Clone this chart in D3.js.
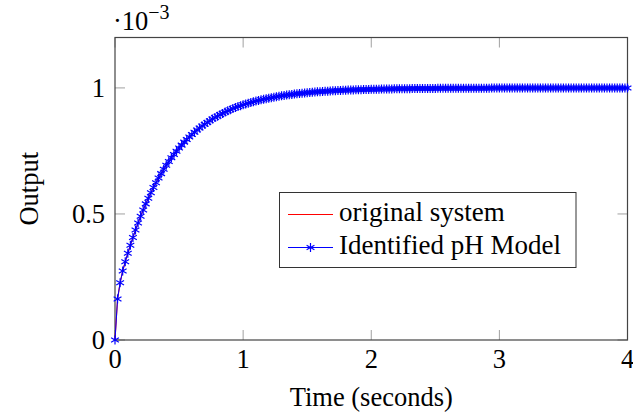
<!DOCTYPE html>
<html>
<head>
<meta charset="utf-8">
<script src="https://cdn.jsdelivr.net/npm/d3@7"></script>
<style>
  html, body { margin: 0; padding: 0; background: #fff; }
  svg { display: block; }
  text { font-family: "Liberation Serif", "DejaVu Serif", serif; fill: #000; }
</style>
</head>
<body>
<svg id="chart" width="633" height="415"></svg>
<script>
// ---- data (output in units of 1e-3) ----
const sampleStep = 0.02; // seconds between samples
const originalOutput = [
  0.000, 0.163, 0.227, 0.274, 0.310, 0.344, 0.376, 0.407, 0.436, 0.464,
  0.491, 0.516, 0.540, 0.562, 0.584, 0.605, 0.624, 0.643, 0.660, 0.677,
  0.693, 0.708, 0.723, 0.736, 0.749, 0.762, 0.773, 0.785, 0.795, 0.805,
  0.815, 0.824, 0.833, 0.841, 0.849, 0.856, 0.863, 0.870, 0.877, 0.883,
  0.888, 0.894, 0.899, 0.904, 0.909, 0.913, 0.918, 0.922, 0.926, 0.929,
  0.933, 0.936, 0.939, 0.942, 0.945, 0.948, 0.950, 0.953, 0.955, 0.957,
  0.959, 0.961, 0.963, 0.965, 0.967, 0.969, 0.970, 0.972, 0.973, 0.974,
  0.976, 0.977, 0.978, 0.979, 0.980, 0.981, 0.982, 0.983, 0.984, 0.985,
  0.985, 0.986, 0.987, 0.987, 0.988, 0.989, 0.989, 0.990, 0.990, 0.991,
  0.991, 0.992, 0.992, 0.992, 0.993, 0.993, 0.993, 0.994, 0.994, 0.994,
  0.995, 0.995, 0.995, 0.995, 0.996, 0.996, 0.996, 0.996, 0.996, 0.997,
  0.997, 0.997, 0.997, 0.997, 0.997, 0.997, 0.998, 0.998, 0.998, 0.998,
  0.998, 0.998, 0.998, 0.998, 0.998, 0.998, 0.999, 0.999, 0.999, 0.999,
  0.999, 0.999, 0.999, 0.999, 0.999, 0.999, 0.999, 0.999, 0.999, 0.999,
  0.999, 0.999, 0.999, 0.999, 0.999, 0.999, 0.999, 1.000, 1.000, 1.000,
  1.000, 1.000, 1.000, 1.000, 1.000, 1.000, 1.000, 1.000, 1.000, 1.000,
  1.000, 1.000, 1.000, 1.000, 1.000, 1.000, 1.000, 1.000, 1.000, 1.000,
  1.000, 1.000, 1.000, 1.000, 1.000, 1.000, 1.000, 1.000, 1.000, 1.000,
  1.000, 1.000, 1.000, 1.000, 1.000, 1.000, 1.000, 1.000, 1.000, 1.000,
  1.000, 1.000, 1.000, 1.000, 1.000, 1.000, 1.000, 1.000, 1.000, 1.000,
  1.000
];
const identifiedOutput = originalOutput.slice();
const xTicks = [0, 1, 2, 3, 4];
const yTicks = [0, 0.5, 1];
const yTickLabels = ["0", "0.5", "1"];
const seriesNames = ["original system", "Identified pH Model"];
const seriesColors = ["#ff0000", "#0000ff"];

// ---- layout ----
const svg = d3.select("#chart");
const pL = 115, pR = 627.5, pT = 37.5, pB = 340;
const x = d3.scaleLinear().domain([0, 4]).range([pL, pR]);
const y = d3.scaleLinear().domain([0, 1.2]).range([pB, pT]);

const times = originalOutput.map((_, i) => i * sampleStep);
const orig = times.map((t, i) => [t, originalOutput[i]]);
const ident = times.map((t, i) => [t, identifiedOutput[i]]);

// ticks (inward, gray)
const tickLen = 10;
const gT = svg.append("g").attr("stroke", "#a0a0a0").attr("stroke-width", 1);
xTicks.forEach(v => {
  gT.append("line").attr("x1", x(v)).attr("x2", x(v)).attr("y1", pB).attr("y2", pB - tickLen);
  gT.append("line").attr("x1", x(v)).attr("x2", x(v)).attr("y1", pT).attr("y2", pT + tickLen);
});
yTicks.forEach(v => {
  gT.append("line").attr("x1", pL).attr("x2", pL + tickLen).attr("y1", y(v)).attr("y2", y(v));
  gT.append("line").attr("x1", pR).attr("x2", pR - tickLen).attr("y1", y(v)).attr("y2", y(v));
});

// frame
svg.append("rect").attr("x", pL).attr("y", pT)
  .attr("width", pR - pL).attr("height", pB - pT)
  .attr("fill", "none").attr("stroke", "#444").attr("stroke-width", 1.2);

// tick labels
const fs = 26.5;
xTicks.forEach(v => {
  svg.append("text").attr("x", x(v)).attr("y", 368).attr("text-anchor", "middle")
    .attr("font-size", fs).text(d3.format("d")(v));
});
yTicks.forEach((v, i) => {
  svg.append("text").attr("x", 105).attr("y", y(v) + 9).attr("text-anchor", "end")
    .attr("font-size", fs).text(yTickLabels[i]);
});

// scale label ·10^-3
const sc = svg.append("text").attr("x", 113).attr("y", 29.5).attr("font-size", 26.5);
sc.append("tspan").text("\u00B710");
sc.append("tspan").attr("dy", -11).attr("font-size", 20).text("\u22123");

// axis labels
svg.append("text").attr("x", (pL + pR) / 2).attr("y", 406).attr("text-anchor", "middle")
  .attr("font-size", fs).text("Time (seconds)");
svg.append("text").attr("transform", "translate(38," + ((pT + pB) / 2) + ") rotate(-90)")
  .attr("text-anchor", "middle").attr("font-size", fs).text("Output");

// lines
const line = d3.line().x(d => x(d[0])).y(d => y(d[1]));
svg.append("clipPath").attr("id", "clip").append("rect")
  .attr("x", pL - 6).attr("y", pT).attr("width", pR - pL + 12).attr("height", pB - pT + 6);
const plot = svg.append("g").attr("clip-path", "url(#clip)");

plot.append("path").datum(orig).attr("d", line).attr("fill", "none")
  .attr("stroke", seriesColors[0]).attr("stroke-width", 1.1);
plot.append("path").datum(ident).attr("d", line).attr("fill", "none")
  .attr("stroke", seriesColors[1]).attr("stroke-width", 1);

// asterisk marker
const r = 4.5;
function asterisk(g, cx, cy, color) {
  [90, 30, 150].forEach(a => {
    const rad = a * Math.PI / 180;
    g.append("line")
      .attr("x1", cx - r * Math.cos(rad)).attr("y1", cy - r * Math.sin(rad))
      .attr("x2", cx + r * Math.cos(rad)).attr("y2", cy + r * Math.sin(rad))
      .attr("stroke", color).attr("stroke-width", 1.2);
  });
}
const mk = plot.append("g");
ident.forEach(d => asterisk(mk, x(d[0]), y(d[1]), seriesColors[1]));

// legend
const lg = svg.append("g");
lg.append("rect").attr("x", 279.5).attr("y", 192.5).attr("width", 296.5).attr("height", 75)
  .attr("fill", "#fff").attr("stroke", "#333").attr("stroke-width", 1);
const rows = [214.5, 247.5];
const baselines = [221, 254];
seriesNames.forEach((n, i) => {
  lg.append("line").attr("x1", 288).attr("x2", 333).attr("y1", rows[i]).attr("y2", rows[i])
    .attr("stroke", seriesColors[i]).attr("stroke-width", 1.1);
  if (i === 1) asterisk(lg, 310.5, rows[i], seriesColors[i]);
  lg.append("text").attr("x", 339).attr("y", baselines[i]).attr("font-size", 27).text(n);
});
</script>
</body>
</html>
